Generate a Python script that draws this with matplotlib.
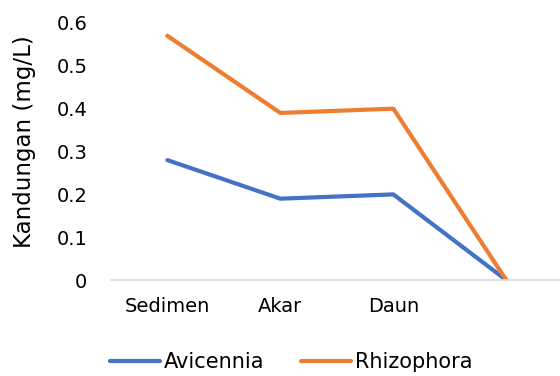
import matplotlib.pyplot as plt
import numpy as np

# kandungan per bagian
kategori = ['Sedimen', 'Akar', 'Daun', '']
avicennia = [0.28, 0.19, 0.20, 0.0]
rhizophora = [0.57, 0.39, 0.40, 0.0]

plt.rcParams['font.family'] = ['DejaVu Sans']

fig = plt.figure(figsize=(5.6, 3.76), dpi=100)
ax = fig.add_axes([0.198, 0.255, 0.807, 0.684])

x = np.arange(len(kategori))
ax.plot(x, avicennia, color='#4472C4', linewidth=3.0, label='Avicennia', solid_capstyle='round')
ax.plot(x, rhizophora, color='#ED7D31', linewidth=3.0, label='Rhizophora', solid_capstyle='round')

ax.set_xlim(-0.5, 3.5)
ax.set_ylim(0, 0.6)
ax.set_xticks(x)
ax.set_xticklabels(kategori)
ax.set_yticks([0, 0.1, 0.2, 0.3, 0.4, 0.5, 0.6])
ax.set_yticklabels(['0', '0.1', '0.2', '0.3', '0.4', '0.5', '0.6'])
ax.tick_params(axis='both', length=0, labelsize=14, colors='black')
ax.tick_params(axis='x', pad=12)
ax.tick_params(axis='y', pad=17)

for s in ['top', 'right', 'left']:
    ax.spines[s].set_visible(False)
ax.spines['bottom'].set_color('#D9D9D9')
ax.spines['bottom'].set_linewidth(1.2)

ax.set_ylabel('Kandungan (mg/L)', fontsize=16.5)
ax.yaxis.set_label_coords(-0.165, 0.537)

fig.legend(loc='center', bbox_to_anchor=(0.52, 0.037), ncol=2, frameon=False,
           fontsize=15, handlelength=2.4, handletextpad=0.15, columnspacing=1.8)

fig.savefig('out.png', dpi=100)
